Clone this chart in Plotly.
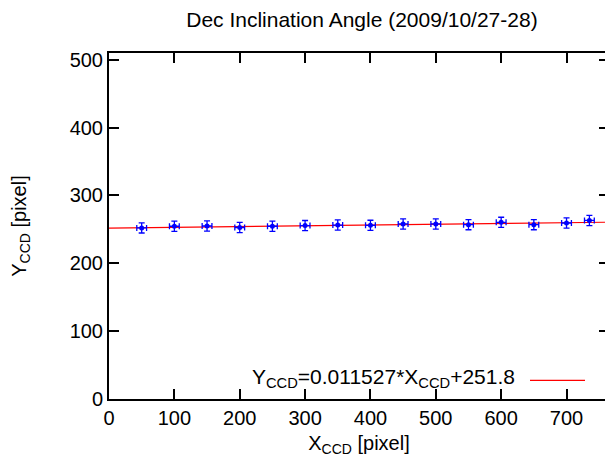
import plotly.graph_objects as go

# Data
x_vals = [50, 100, 150, 200, 250, 300, 350, 400, 450, 500, 550, 600, 650, 700, 735]
y_vals = [252.2, 254.6, 255.0, 252.8, 254.6, 255.6, 256.4, 256.0, 258.0, 258.0, 257.0, 260.4, 257.0, 259.4, 263.2]
x_err = [7.5] * len(x_vals)
y_err = [7.5] * len(x_vals)

fit_slope = 0.011527
fit_intercept = 251.8
fit_x = [0, 765]
fit_y = [fit_slope * v + fit_intercept for v in fit_x]

x_ticks = [0, 100, 200, 300, 400, 500, 600, 700]
y_ticks = [0, 100, 200, 300, 400, 500]

FONT = "Liberation Sans, Arial, sans-serif"

fig = go.Figure()
fig.add_trace(go.Scatter(
    x=fit_x, y=fit_y, mode="lines",
    line=dict(color="#ff0000", width=1.2),
    showlegend=False, hoverinfo="skip",
))
fig.add_trace(go.Scatter(
    x=x_vals, y=y_vals, mode="markers",
    marker=dict(color="#0000ff", size=5, symbol="circle"),
    error_x=dict(type="data", array=x_err, color="#0000ff", thickness=1.3, width=3),
    error_y=dict(type="data", array=y_err, color="#0000ff", thickness=1.3, width=3),
    showlegend=False,
))

axis_common = dict(
    showgrid=False, zeroline=False, showline=True, mirror="allticks",
    linecolor="#000000", linewidth=2, ticks="inside", ticklen=10,
    tickwidth=1.5, tickcolor="#000000", automargin=False,
    tickfont=dict(family=FONT, size=20, color="#000000"),
)

# page body has an 8px default margin, so the figure is sized/offset for it
fig.update_layout(
    width=605, height=454,
    margin=dict(l=101, r=4, t=45, b=63),
    paper_bgcolor="white", plot_bgcolor="white",
    title=dict(text="Dec Inclination Angle (2009/10/27-28)",
               x=0.585, xanchor="center", y=0.9736, yanchor="middle",
               font=dict(family=FONT, size=21, color="#000000")),
    xaxis=dict(range=[0, 765], tickvals=x_ticks,
               title=dict(text="X<sub>CCD</sub> [pixel]", standoff=8,
                          font=dict(family=FONT, size=20, color="#000000")),
               **axis_common),
    yaxis=dict(range=[0, 510], tickvals=y_ticks,
               title=dict(text="Y<sub>CCD</sub> [pixel]", standoff=38,
                          font=dict(family=FONT, size=20, color="#000000")),
               **axis_common),
    annotations=[dict(
        text="Y<sub>CCD</sub>=0.011527*X<sub>CCD</sub>+251.8",
        xref="paper", yref="paper", x=0.816, y=0.062,
        xanchor="right", yanchor="middle", showarrow=False,
        font=dict(family=FONT, size=21, color="#000000"),
    )],
    shapes=[dict(type="line", xref="paper", yref="paper",
                 x0=0.842, x1=0.952, y0=0.054, y1=0.054,
                 line=dict(color="#ff0000", width=1.2))],
)

fig.write_html("out.html")
